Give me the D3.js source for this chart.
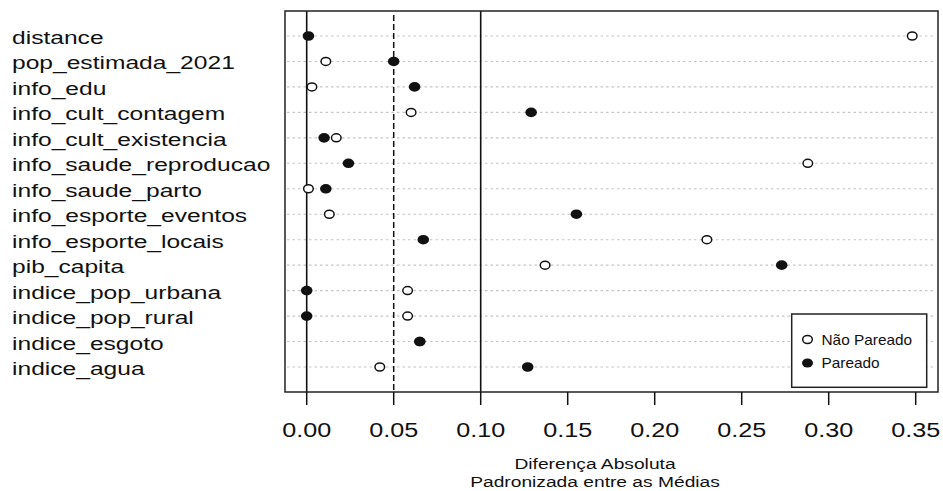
<!DOCTYPE html>
<html>
<head>
<meta charset="utf-8">
<script src="https://cdn.jsdelivr.net/npm/d3@7"></script>
<style>
  body { margin: 0; background: #fff; }
  text { font-family: "Liberation Sans", Arial, sans-serif; fill: #111; }
</style>
</head>
<body>
<script>
var width = 943, height = 491;

// variáveis do balanceamento
var variaveis = ["distance", "pop_estimada_2021", "info_edu", "info_cult_contagem",
  "info_cult_existencia", "info_saude_reproducao", "info_saude_parto",
  "info_esporte_eventos", "info_esporte_locais", "pib_capita",
  "indice_pop_urbana", "indice_pop_rural", "indice_esgoto", "indice_agua"];

// diferença absoluta padronizada, antes e depois do pareamento
var naoPareado = [0.348, 0.011, 0.003, 0.060, 0.017, 0.288, 0.001,
  0.013, 0.230, 0.137, 0.058, 0.058, 0.065, 0.042];
var pareado = [0.001, 0.050, 0.062, 0.129, 0.010, 0.024, 0.011,
  0.155, 0.067, 0.273, 0.000, 0.000, 0.065, 0.127];

var xTicks = [0, 0.05, 0.10, 0.15, 0.20, 0.25, 0.30, 0.35];
var linhasRef = [0, 0.10];   // linhas cheias
var linhaTrac = 0.05;        // linha tracejada
var legenda = ["Não Pareado", "Pareado"];
var tituloX = ["Diferença Absoluta", "Padronizada entre as Médias"];

var box = { left: 285, top: 11, right: 938, bottom: 392 };

var svg = d3.select("body").append("svg")
  .attr("width", width)
  .attr("height", height);

var x = d3.scaleLinear().domain([0, 0.35]).range([306.7, 915.7]);
var y = d3.scalePoint().domain(variaveis).range([36, 367]);

// grade pontilhada de cada linha
svg.append("g").selectAll("line")
  .data(variaveis)
  .enter().append("line")
  .attr("x1", box.left + 2).attr("x2", box.right - 3)
  .attr("y1", function(d) { return y(d); })
  .attr("y2", function(d) { return y(d); })
  .attr("stroke", "#c4c4c4")
  .attr("stroke-width", 1.1)
  .attr("stroke-dasharray", "2.5,3");

// linhas de referência
svg.append("g").selectAll("line")
  .data(linhasRef)
  .enter().append("line")
  .attr("x1", function(d) { return x(d); })
  .attr("x2", function(d) { return x(d); })
  .attr("y1", box.top).attr("y2", box.bottom)
  .attr("stroke", "#111")
  .attr("stroke-width", 1.6);

svg.append("line")
  .attr("x1", x(linhaTrac)).attr("x2", x(linhaTrac))
  .attr("y1", box.top + 4).attr("y2", box.bottom)
  .attr("stroke", "#111")
  .attr("stroke-width", 1.5)
  .attr("stroke-dasharray", "6,3");

// pontos: abertos (não pareado) e cheios (pareado)
svg.append("g").selectAll("ellipse")
  .data(naoPareado)
  .enter().append("ellipse")
  .attr("cx", function(d) { return x(d); })
  .attr("cy", function(d, i) { return y(variaveis[i]); })
  .attr("rx", 4.8).attr("ry", 4.0)
  .attr("fill", "#fff")
  .attr("stroke", "#111")
  .attr("stroke-width", 1.5);

svg.append("g").selectAll("ellipse")
  .data(pareado)
  .enter().append("ellipse")
  .attr("cx", function(d) { return x(d); })
  .attr("cy", function(d, i) { return y(variaveis[i]); })
  .attr("rx", 5.8).attr("ry", 4.8)
  .attr("fill", "#111");

// caixa do gráfico
svg.append("rect")
  .attr("x", box.left).attr("y", box.top)
  .attr("width", box.right - box.left)
  .attr("height", box.bottom - box.top)
  .attr("fill", "none")
  .attr("stroke", "#222")
  .attr("stroke-width", 1.5);

// rótulos das variáveis
svg.append("g").selectAll("text")
  .data(variaveis)
  .enter().append("text")
  .attr("transform", function(d) { return "translate(12," + (y(d) + 8) + ") scale(1.33,1)"; })
  .style("font-size", "18.5px")
  .text(function(d) { return d; });

// eixo x
var eixo = svg.append("g")
  .attr("transform", "translate(0," + box.bottom + ")");

eixo.selectAll("line")
  .data(xTicks)
  .enter().append("line")
  .attr("x1", function(d) { return x(d); })
  .attr("x2", function(d) { return x(d); })
  .attr("y1", 0).attr("y2", 13)
  .attr("stroke", "#111")
  .attr("stroke-width", 1.5);

var fmt = d3.format(".2f");
eixo.selectAll("text")
  .data(xTicks)
  .enter().append("text")
  .attr("transform", function(d) { return "translate(" + x(d) + ",45) scale(1.2,1)"; })
  .attr("text-anchor", "middle")
  .style("font-size", "21px")
  .text(function(d) { return fmt(d); });

// título do eixo x
svg.append("g").selectAll("text")
  .data(tituloX)
  .enter().append("text")
  .attr("transform", function(d, i) { return "translate(595," + (469 + i * 18) + ") scale(1.24,1)"; })
  .attr("text-anchor", "middle")
  .style("font-size", "15.5px")
  .text(function(d) { return d; });

// legenda
var leg = svg.append("g");
leg.append("rect")
  .attr("x", 791.7).attr("y", 314)
  .attr("width", 135).attr("height", 73.3)
  .attr("fill", "#fff")
  .attr("stroke", "#222")
  .attr("stroke-width", 1.5);

var itens = leg.selectAll("g.item")
  .data(legenda)
  .enter().append("g")
  .attr("class", "item")
  .attr("transform", function(d, i) { return "translate(0," + (339.5 + i * 23.5) + ")"; });

itens.append("ellipse")
  .attr("cx", 807.5).attr("cy", 0)
  .attr("rx", function(d, i) { return i === 0 ? 4.8 : 5.5; })
  .attr("ry", function(d, i) { return i === 0 ? 4.0 : 4.6; })
  .attr("fill", function(d, i) { return i === 0 ? "#fff" : "#111"; })
  .attr("stroke", "#111")
  .attr("stroke-width", function(d, i) { return i === 0 ? 1.5 : 0; });

itens.append("text")
  .attr("transform", "translate(821.5,5) scale(1.1,1)")
  .style("font-size", "14px")
  .text(function(d) { return d; });
</script>
</body>
</html>
